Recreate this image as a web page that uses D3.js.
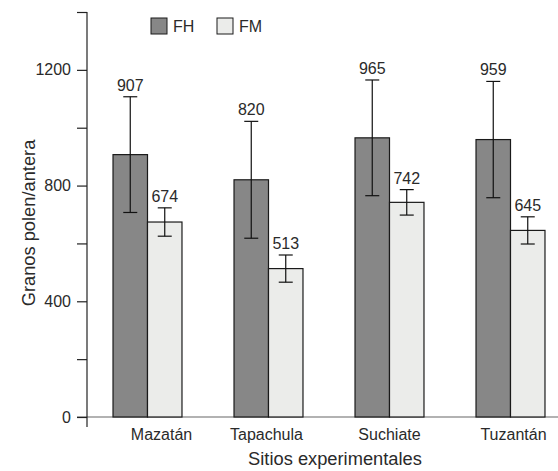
<!DOCTYPE html>
<html>
<head>
<meta charset="utf-8">
<script src="https://cdn.jsdelivr.net/npm/d3@7"></script>
<style>
  body { margin: 0; background: #fff; }
  svg text { font-family: "Liberation Sans", Arial, sans-serif; fill: #2a2a2a; }
</style>
</head>
<body>
<div id="chart"></div>
<script>
// Sites and series
const sites = ['Mazatán', 'Tapachula', 'Suchiate', 'Tuzantán'];
const seriesNames = ['FH', 'FM'];
// Mean pollen grains per anther
const fhMeans = [907, 820, 965, 959];
const fmMeans = [674, 513, 742, 645];
// Error bar half-widths
const fhErr = [200, 202, 200, 201];
const fmErr = [49, 47, 44, 47];
// Axis ticks
const labelTicks = [0, 400, 800, 1200];
const allTicks = [0, 200, 400, 600, 800, 1000, 1200, 1400];

const W = 558, H = 471;
const fills = { FH: '#878787', FM: '#ebecea' };

const svg = d3.select('#chart').append('svg')
  .attr('width', W).attr('height', H);

// Y scale: 0..1400 mapped to the plot height
const y = d3.scaleLinear().domain([0, 1400]).range([417, 12]);

// X scales: one band per site, sub-band per series
const x = d3.scaleBand().domain(sites)
  .range([87, 571]).paddingInner(0.43).paddingOuter(0.215);
const xs = d3.scaleBand().domain(seriesNames).range([0, x.bandwidth()]);

const rows = sites.flatMap((s, i) => [
  { site: s, key: 'FH', v: fhMeans[i], e: fhErr[i] },
  { site: s, key: 'FM', v: fmMeans[i], e: fmErr[i] }
]);

// Baseline (grey) along value 0
svg.append('line')
  .attr('x1', 77).attr('x2', W)
  .attr('y1', y(0)).attr('y2', y(0))
  .attr('stroke', '#666').attr('stroke-width', 1.2);

// Bars
svg.append('g').selectAll('rect')
  .data(rows).join('rect')
  .attr('x', d => x(d.site) + xs(d.key))
  .attr('y', d => y(d.v))
  .attr('width', xs.bandwidth())
  .attr('height', d => y(0) - y(d.v))
  .attr('fill', d => fills[d.key])
  .attr('stroke', '#1a1a1a').attr('stroke-width', 1.2);

// Error bars
const cap = 7;
const eb = svg.append('g').attr('stroke', '#111').attr('stroke-width', 1.2);
rows.forEach(d => {
  const cx = x(d.site) + xs(d.key) + xs.bandwidth() / 2;
  eb.append('line').attr('x1', cx).attr('x2', cx)
    .attr('y1', y(d.v - d.e)).attr('y2', y(d.v + d.e));
  [d.v - d.e, d.v + d.e].forEach(t => {
    eb.append('line').attr('x1', cx - cap).attr('x2', cx + cap)
      .attr('y1', y(t)).attr('y2', y(t));
  });
});

// Value labels above error bars
svg.append('g').selectAll('text')
  .data(rows).join('text')
  .attr('x', d => x(d.site) + xs(d.key) + xs.bandwidth() / 2)
  .attr('y', d => y(d.v + d.e) - 6)
  .attr('text-anchor', 'middle')
  .style('font-size', '16px')
  .text(d => d.v);

// Y axis
const yAxis = d3.axisLeft(y).tickValues(allTicks).tickSize(10)
  .tickFormat(d => labelTicks.includes(d) ? d : '');
const yG = svg.append('g').attr('transform', 'translate(87,0)').call(yAxis);
yG.select('.domain').remove();
yG.selectAll('.tick line').attr('stroke', '#222').attr('stroke-width', 1.2);
yG.selectAll('.tick text')
  .attr('x', -16)
  .style('font-size', '16px')
  .style('font-family', '"Liberation Sans", Arial, sans-serif')
  .attr('fill', '#2a2a2a');
svg.append('line')
  .attr('x1', 87).attr('x2', 87).attr('y1', y(1400)).attr('y2', 427)
  .attr('stroke', '#222').attr('stroke-width', 1.2);

// Category labels (small manual nudges like the original)
const nudge = { 'Mazatán': 14, 'Tapachula': -2, 'Suchiate': 0, 'Tuzantán': 3 };
svg.append('g').selectAll('text')
  .data(sites).join('text')
  .attr('x', d => x(d) + x.bandwidth() / 2 + nudge[d])
  .attr('y', 440)
  .attr('text-anchor', 'middle')
  .style('font-size', '16px')
  .text(d => d);

// Axis titles
svg.append('text')
  .attr('x', 335).attr('y', 465)
  .attr('text-anchor', 'middle')
  .style('font-size', '18.3px')
  .text('Sitios experimentales');
svg.append('text')
  .attr('transform', 'rotate(-90)')
  .attr('x', -223).attr('y', 35)
  .attr('text-anchor', 'middle')
  .style('font-size', '18.3px')
  .text('Granos polen/antera');

// Legend
const lg = svg.append('g');
seriesNames.forEach((k, i) => {
  const lx = 151 + i * 66;
  lg.append('rect').attr('x', lx).attr('y', 18).attr('width', 16).attr('height', 16)
    .attr('fill', fills[k]).attr('stroke', '#1a1a1a').attr('stroke-width', 1);
  lg.append('text').attr('x', lx + 22).attr('y', 32)
    .style('font-size', '16px').text(k);
});
</script>
</body>
</html>
